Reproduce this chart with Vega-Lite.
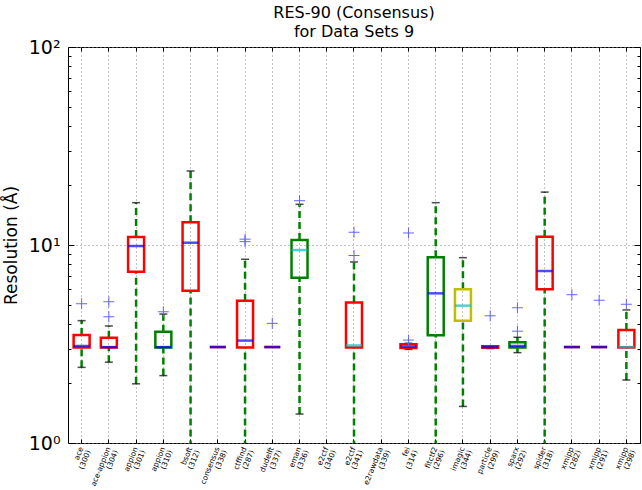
{
  "$schema": "https://vega.github.io/schema/vega-lite/v6.json",
  "autosize": "none",
  "padding": {"left": 68, "top": 47, "right": 2, "bottom": 47},
  "width": 572,
  "height": 396,
  "title": {"text": ["RES-90 (Consensus)", "for Data Sets 9"], "fontSize": 16, "fontWeight": "normal", "font": "DejaVu Sans", "anchor": "middle", "offset": -2, "lineHeight": 19, "color": "black"},
  "config": {"font": "DejaVu Sans", "view": {"stroke": "black", "strokeWidth": 1}, "axis": {"domain": false}},
  "datasets": {
    "stats": [
      {"name": "ace|(300)", "q1": 3.04, "q3": 3.51, "med": 3.09, "lo": 2.41, "hi": 4.15, "box": "r", "mc": "b"},
      {"name": "ace-appion|(304)", "q1": 3.04, "q3": 3.40, "med": 3.05, "lo": 2.56, "hi": 3.90, "box": "r", "mc": "b"},
      {"name": "appion|(301)", "q1": 7.33, "q3": 10.98, "med": 9.88, "lo": 1.99, "hi": 16.36, "box": "r", "mc": "b"},
      {"name": "appion|(310)", "q1": 3.04, "q3": 3.65, "med": 3.05, "lo": 2.19, "hi": 4.48, "box": "g", "mc": "b"},
      {"name": "bsoft|(312)", "q1": 5.88, "q3": 13.02, "med": 10.27, "lo": 0.5, "hi": 23.64, "box": "r", "mc": "b"},
      {"name": "consensus|(338)", "q1": 3.05, "q3": 3.05, "med": 3.05, "lo": 3.05, "hi": 3.05, "box": "r", "mc": "b"},
      {"name": "ctffind|(287)", "q1": 3.04, "q3": 5.23, "med": 3.29, "lo": 0.5, "hi": 8.47, "box": "r", "mc": "b"},
      {"name": "dudelft|(337)", "q1": 3.05, "q3": 3.05, "med": 3.05, "lo": 3.05, "hi": 3.05, "box": "r", "mc": "b"},
      {"name": "eman|(336)", "q1": 6.83, "q3": 10.6, "med": 9.43, "lo": 1.40, "hi": 16.05, "box": "g", "mc": "c"},
      {"name": "e2ctf|(341)", "q1": 3.04, "q3": 5.13, "med": 3.11, "lo": 0.5, "hi": 8.21, "box": "r", "mc": "c"},
      {"name": "fei|(314)", "q1": 3.02, "q3": 3.15, "med": 3.07, "lo": 2.97, "hi": 3.19, "box": "r", "mc": "b"},
      {"name": "fitctf2|(296)", "q1": 3.50, "q3": 8.66, "med": 5.70, "lo": 0.5, "hi": 16.36, "box": "g", "mc": "b"},
      {"name": "imagic|(344)", "q1": 4.15, "q3": 5.98, "med": 4.94, "lo": 1.53, "hi": 8.63, "box": "y", "mc": "c"},
      {"name": "particle|(299)", "q1": 3.03, "q3": 3.08, "med": 3.05, "lo": 3.0, "hi": 3.1, "box": "r", "mc": "b"},
      {"name": "sparx|(292)", "q1": 3.04, "q3": 3.23, "med": 3.09, "lo": 2.86, "hi": 3.42, "box": "g", "mc": "b"},
      {"name": "spider|(318)", "q1": 5.98, "q3": 11.01, "med": 7.39, "lo": 0.5, "hi": 18.5, "box": "r", "mc": "b"},
      {"name": "xmipp|(282)", "q1": 3.05, "q3": 3.05, "med": 3.05, "lo": 3.05, "hi": 3.05, "box": "r", "mc": "b"},
      {"name": "xmipp|(291)", "q1": 3.05, "q3": 3.05, "med": 3.05, "lo": 3.05, "hi": 3.05, "box": "r", "mc": "b"},
      {"name": "xmipp|(298)", "q1": 3.04, "q3": 3.72, "med": 3.05, "lo": 2.08, "hi": 4.70, "box": "r", "mc": "c"}
    ],
    "fliers": [
      {"name": "ace|(300)", "v": 5.05},
      {"name": "ace-appion|(304)", "v": 5.17},
      {"name": "ace-appion|(304)", "v": 4.34},
      {"name": "appion|(310)", "v": 4.60},
      {"name": "ctffind|(287)", "v": 10.4},
      {"name": "ctffind|(287)", "v": 10.7},
      {"name": "dudelft|(337)", "v": 4.02},
      {"name": "eman|(336)", "v": 16.74},
      {"name": "e2ctf|(341)", "v": 11.6},
      {"name": "e2ctf|(341)", "v": 8.85},
      {"name": "fei|(314)", "v": 11.5},
      {"name": "fei|(314)", "v": 3.31},
      {"name": "particle|(299)", "v": 4.39},
      {"name": "sparx|(292)", "v": 4.82},
      {"name": "sparx|(292)", "v": 3.67},
      {"name": "xmipp|(282)", "v": 5.61},
      {"name": "xmipp|(291)", "v": 5.26},
      {"name": "xmipp|(298)", "v": 5.02}
    ]
  },
  "resolve": {"axis": {"x": "independent", "y": "independent"}},
  "layer": [
    {
      "data": {"name": "stats"},
      "mark": {"type": "rule", "clip": true, "color": "#008000", "strokeWidth": 2.5, "strokeDash": [7, 4]},
      "encoding": {
        "x": {"field": "name", "type": "nominal",
          "scale": {"type": "band", "paddingInner": 0, "paddingOuter": 0,
            "domain": ["ace|(300)", "ace-appion|(304)", "appion|(301)", "appion|(310)", "bsoft|(312)", "consensus|(338)", "ctffind|(287)", "dudelft|(337)", "eman|(336)", "e2ctf|(340)", "e2ctf|(341)", "e2rawdata|(339)", "fei|(314)", "fitctf2|(296)", "imagic|(344)", "particle|(299)", "sparx|(292)", "spider|(318)", "xmipp|(282)", "xmipp|(291)", "xmipp|(298)"]},
          "axis": {"orient": "bottom", "title": null, "ticks": false, "labelExpr": "split(datum.label, '|')", "labelAngle": -68, "labelAlign": "right", "labelBaseline": "middle", "labelFontSize": 7.5, "labelLineHeight": 8, "labelPadding": 4, "labelColor": "black", "labelOverlap": false, "grid": true, "gridDash": [1, 3], "gridColor": "#888888", "gridWidth": 1}},
        "y": {"field": "lo", "type": "quantitative",
          "scale": {"type": "log", "domain": [1, 100], "nice": false},
          "axis": {"orient": "left", "title": "Resolution (Å)", "titleFontSize": 17, "titleFontWeight": "normal", "titleColor": "black", "titlePadding": 8, "values": [1, 10, 100], "labelExpr": "datum.value == 1 ? '10⁰' : (datum.value == 10 ? '10¹' : '10²')", "labelFontSize": 19, "labelColor": "black", "labelPadding": 8, "labelFlush": false, "labelOverlap": false, "ticks": false, "grid": true, "gridDash": [1, 3], "gridColor": "#888888", "gridWidth": 1}},
        "y2": {"field": "q1"}
      }
    },
    {
      "data": {"name": "stats"},
      "mark": {"type": "rule", "clip": true, "color": "#008000", "strokeWidth": 2.5, "strokeDash": [7, 4]},
      "encoding": {
        "x": {"field": "name", "type": "nominal", "axis": {"orient": "bottom", "title": null, "labels": false, "ticks": true, "tickSize": -4, "tickColor": "black", "grid": false}},
        "y": {"field": "q3", "type": "quantitative", "axis": {"orient": "left", "title": null, "values": [1, 10, 100], "labels": false, "ticks": true, "tickSize": -6, "tickColor": "black", "grid": false}},
        "y2": {"field": "hi"}
      }
    },
    {
      "data": {"name": "stats"},
      "transform": [{"fold": ["lo", "hi"], "as": ["end", "cap"]}],
      "mark": {"type": "tick", "clip": true, "color": "black", "size": 8, "thickness": 1.5},
      "encoding": {
        "x": {"field": "name", "type": "nominal", "axis": {"orient": "top", "title": null, "labels": false, "ticks": true, "tickSize": -4, "tickColor": "black", "grid": false}},
        "y": {"field": "cap", "type": "quantitative", "axis": {"orient": "left", "title": null, "values": [2, 3, 4, 5, 6, 7, 8, 9, 20, 30, 40, 50, 60, 70, 80, 90], "labels": false, "ticks": true, "tickSize": -3, "tickColor": "black", "grid": false}}
      }
    },
    {
      "data": {"name": "stats"},
      "mark": {"type": "bar", "clip": true, "filled": false, "strokeWidth": 2.5, "width": 16},
      "encoding": {
        "x": {"field": "name", "type": "nominal", "axis": null},
        "y": {"field": "q1", "type": "quantitative", "axis": {"orient": "right", "title": null, "values": [1, 10, 100], "labels": false, "ticks": true, "tickSize": -6, "tickColor": "black", "grid": false}},
        "y2": {"field": "q3"},
        "stroke": {"field": "box", "type": "nominal", "legend": null, "scale": {"domain": ["r", "g", "y"], "range": ["#ff0000", "#008000", "#bfbf00"]}}
      }
    },
    {
      "data": {"name": "stats"},
      "mark": {"type": "tick", "clip": true, "size": 16, "thickness": 2.5},
      "encoding": {
        "x": {"field": "name", "type": "nominal", "axis": null},
        "y": {"field": "med", "type": "quantitative", "axis": {"orient": "right", "title": null, "values": [2, 3, 4, 5, 6, 7, 8, 9, 20, 30, 40, 50, 60, 70, 80, 90], "labels": false, "ticks": true, "tickSize": -3, "tickColor": "black", "grid": false}},
        "color": {"field": "mc", "type": "nominal", "legend": null, "scale": {"domain": ["b", "c"], "range": ["#0000ff", "#00bfbf"]}}
      }
    },
    {
      "data": {"name": "fliers"},
      "mark": {"type": "point", "clip": true, "shape": "M-1,0H1M0,-1V1", "size": 121, "filled": false, "strokeWidth": 1, "color": "#6464ff", "opacity": 1},
      "encoding": {
        "x": {"field": "name", "type": "nominal", "axis": null},
        "y": {"field": "v", "type": "quantitative", "axis": null}
      }
    }
  ]
}
